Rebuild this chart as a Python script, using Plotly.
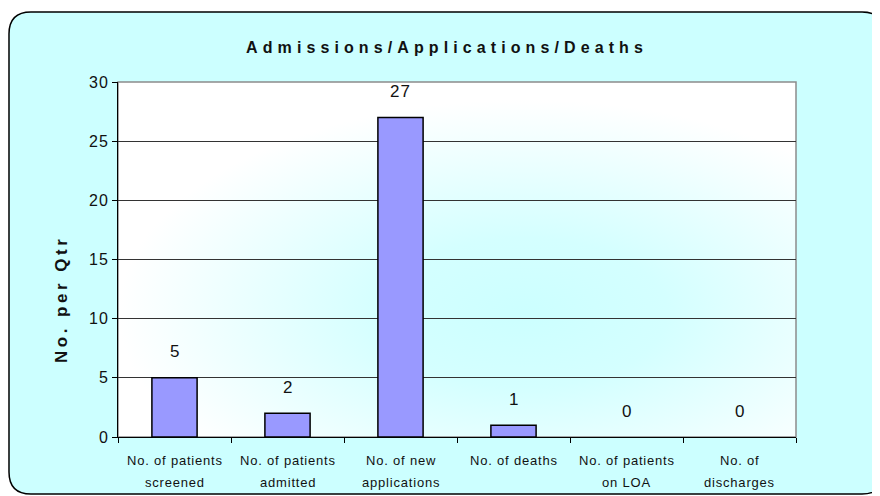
import base64
import plotly.graph_objects as go

cat_line1 = ["No. of patients", "No. of patients", "No. of new", "No. of deaths", "No. of patients", "No. of"]
cat_line2 = ["screened", "admitted", "applications", "", "on LOA", "discharges"]
values = [5, 2, 27, 1, 0, 0]
y_ticks = [0, 5, 10, 15, 20, 25, 30]
title_text = "Admissions/Applications/Deaths"
y_title = "No. per Qtr"

OFF = 8  # page body margin
W, H = 880 - OFF, 496 - OFF
L, T = 118 - OFF, 82 - OFF
PW, PH = 678, 355
R, B = W - L - PW, H - T - PH

def sp(text, px):
    return '<span style="letter-spacing:%spx">%s</span>' % (px, text)

def fx(x):  # page pixel -> paper
    return (x - OFF - L) / PW

def fy(y):
    return (T + PH - (y - OFF)) / PH

FONT = "Liberation Sans Narrow, Arial Narrow, Liberation Sans, Arial, sans-serif"
TXT = "#111111"

n = len(values)
fig = go.Figure()
fig.add_trace(go.Bar(
    x=list(range(n)), y=values,
    marker=dict(color="#9999FF", line=dict(color="black", width=[1.5 if v > 0 else 0 for v in values])),
    width=0.4, hoverinfo="skip",
))

for i, v in enumerate(values):
    fig.add_annotation(x=i, y=v, text=sp(str(v), 1), showarrow=False, yshift=26,
                       yanchor="middle", font=dict(size=17, color=TXT, family=FONT))

for i, (a, b) in enumerate(zip(cat_line1, cat_line2)):
    fig.add_annotation(x=i, xref="x", y=fy(461), yref="paper", text=sp(a, 0.8), showarrow=False,
                       yanchor="middle", font=dict(size=13, color=TXT, family=FONT))
    if b:
        fig.add_annotation(x=i, xref="x", y=fy(482), yref="paper", text=sp(b, 0.8), showarrow=False,
                           yanchor="middle", font=dict(size=13, color=TXT, family=FONT))

# y-axis title
fig.add_annotation(x=fx(61), xref="paper", y=fy(299), yref="paper", text="<b>" + sp(y_title, 3.5) + "</b>",
                   textangle=-90, showarrow=False, xanchor="center", yanchor="middle",
                   font=dict(size=17, color=TXT, family=FONT))

# plot area gradient
svg = ('<svg xmlns="http://www.w3.org/2000/svg" width="678" height="355" preserveAspectRatio="none">'
       '<defs><radialGradient id="g" cx="0.6" cy="0.65" r="0.6">'
       '<stop offset="0" stop-color="#CCFFFF"/><stop offset="0.35" stop-color="#D4FFFF"/>'
       '<stop offset="1" stop-color="#FFFFFF"/></radialGradient></defs>'
       '<rect width="678" height="355" fill="url(#g)"/></svg>')
src = "data:image/svg+xml;base64," + base64.b64encode(svg.encode()).decode()
fig.add_layout_image(dict(source=src, xref="paper", yref="paper", x=0, y=1, sizex=1, sizey=1,
                          sizing="stretch", layer="below", xanchor="left", yanchor="top"))

# rounded background frame (page pixel coords)
x0, x1, y0, y1, r = 9, 884, 12, 494, 22
def P(x, y):
    return "%.5f,%.5f" % (fx(x), fy(y))
outer = ("M%s L%s Q%s %s L%s Q%s %s L%s Q%s %s L%s Q%s %s Z" % (
    P(x0 + r, y0), P(x1 - r, y0), P(x1, y0), P(x1, y0 + r), P(x1, y1 - r), P(x1, y1), P(x1 - r, y1),
    P(x0 + r, y1), P(x0, y1), P(x0, y1 - r), P(x0, y0 + r), P(x0, y0), P(x0 + r, y0)))
inner = "M0,1 L0,0 L1,0 L1,1 Z"
fig.add_shape(type="path", path=outer + " " + inner, xref="paper", yref="paper",
              fillcolor="#CCFFFF", line=dict(width=0), layer="below")
fig.add_shape(type="path", path=outer, xref="paper", yref="paper",
              fillcolor="rgba(0,0,0,0)", line=dict(color="black", width=1.5), layer="below")
fig.add_shape(type="rect", xref="paper", yref="paper", x0=0, x1=1, y0=0, y1=1,
              line=dict(color="#8C8C8C", width=1.5), fillcolor="rgba(0,0,0,0)", layer="below")

fig.update_layout(
    width=W, height=H, margin=dict(l=L, r=R, t=T, b=B, autoexpand=False),
    paper_bgcolor="white", plot_bgcolor="rgba(0,0,0,0)",
    showlegend=False,
    font=dict(family=FONT, color=TXT),
    title=dict(text="<b>" + sp(title_text, 5.1) + "</b>", x=(447 - OFF) / W, xanchor="center",
               y=1 - (47 - OFF) / H, yanchor="middle", font=dict(size=16, family=FONT, color=TXT)),
    bargap=0.6,
)
fig.update_xaxes(
    tickmode="array", tickvals=[i - 0.5 for i in range(n + 1)], showticklabels=False,
    range=[-0.5, n - 0.5],
    showline=True, linecolor="black", linewidth=1,
    ticks="outside", ticklen=5, tickcolor="black",
    showgrid=False, fixedrange=True,
)
fig.update_yaxes(
    range=[0, 30], tickvals=y_ticks, ticktext=[sp(str(t), 1) for t in y_ticks],
    showline=True, linecolor="black", linewidth=1,
    ticks="outside", ticklen=5, tickcolor="black",
    showgrid=True, gridcolor="#333333", gridwidth=1, zeroline=False,
    tickfont=dict(size=16, family=FONT, color=TXT), fixedrange=True,
)

fig.write_html("out.html")
